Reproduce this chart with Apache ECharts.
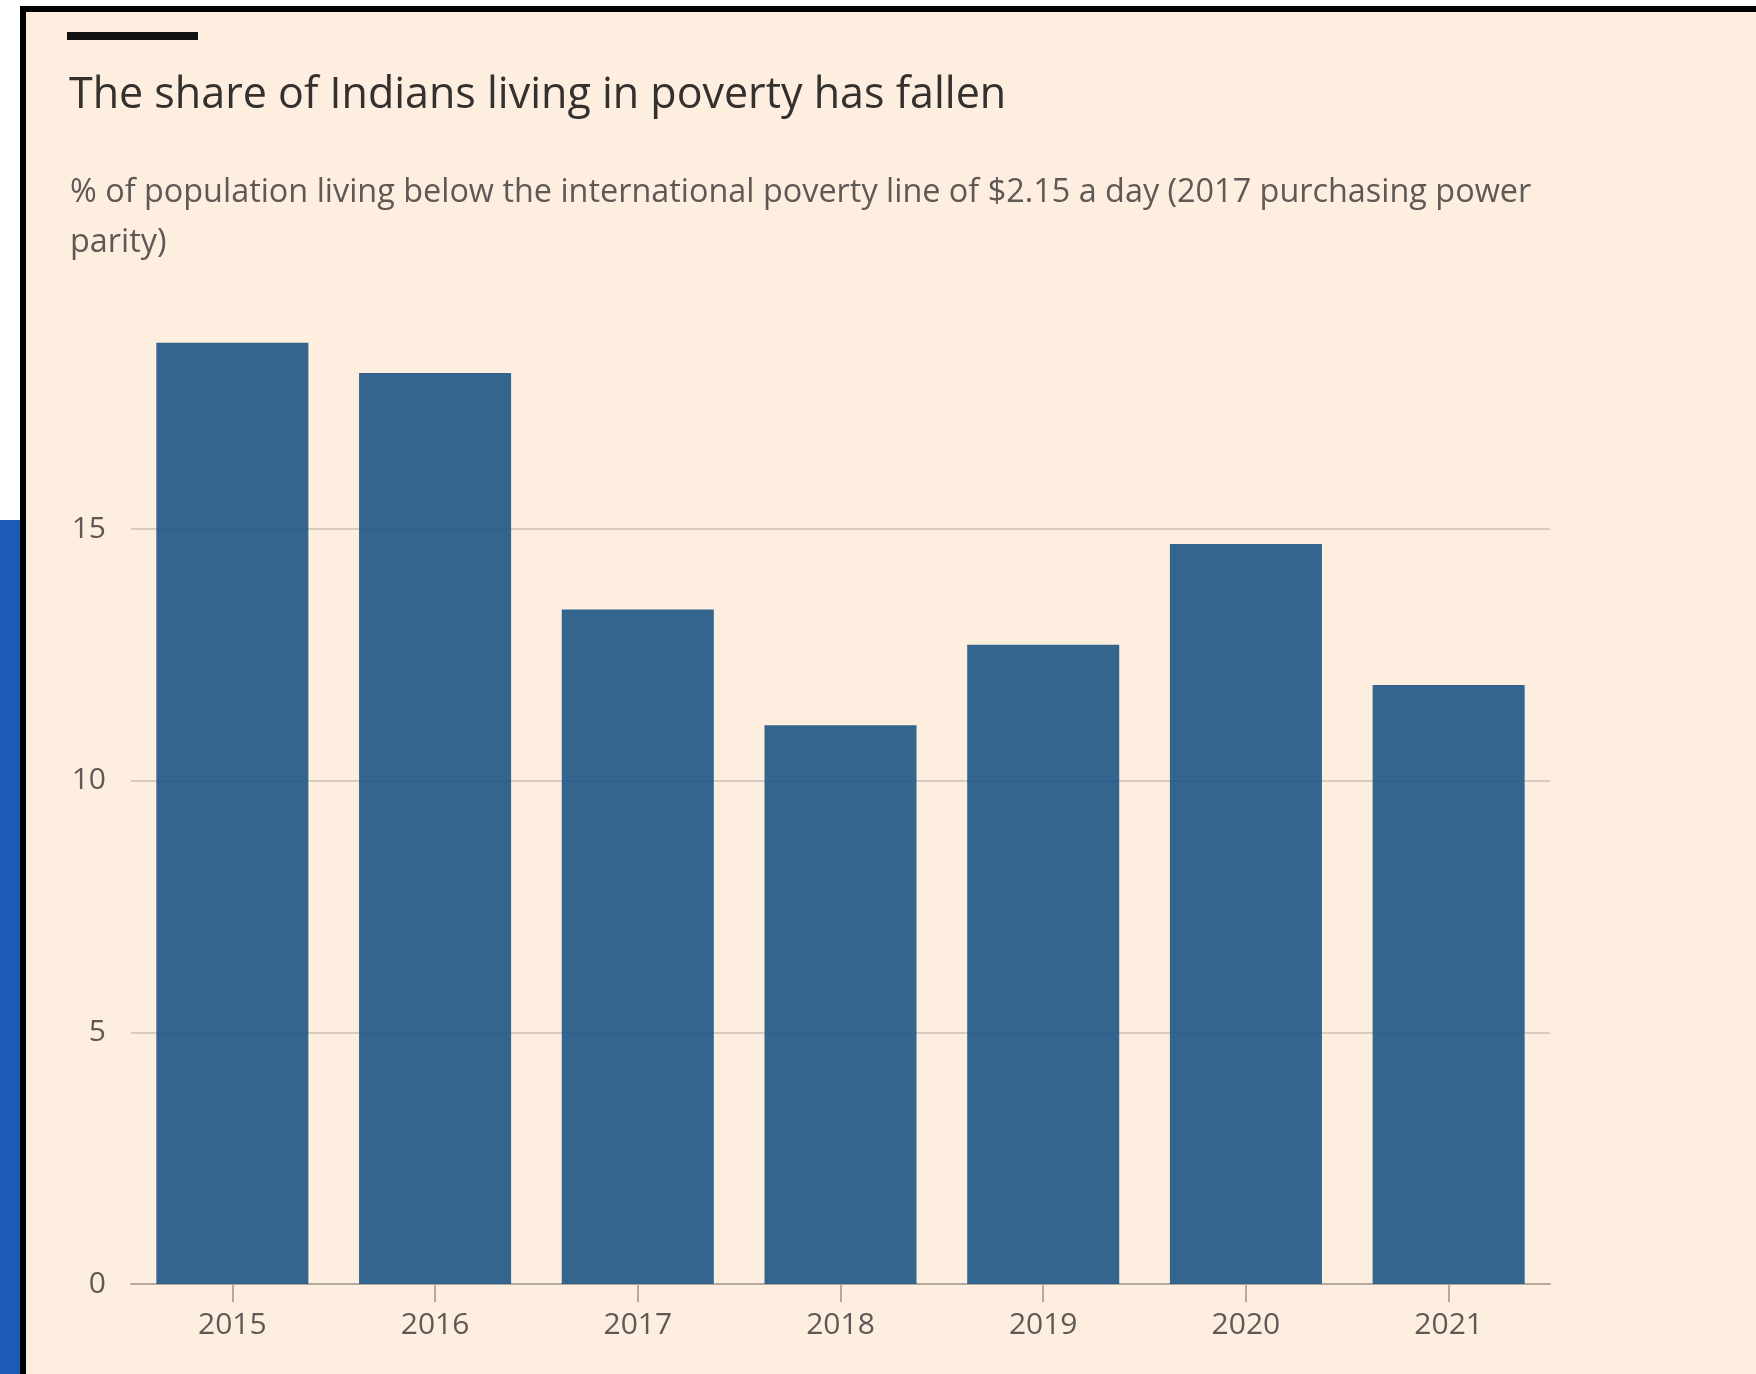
<!DOCTYPE html>
<html><head><meta charset="utf-8">
<script src="https://cdn.jsdelivr.net/npm/echarts@6/dist/echarts.min.js"></script>
<style>html,body{margin:0;padding:0;background:#fff;} #c{width:1756px;height:1374px;}</style>
</head><body><div id="c"></div>
<script>
const categories = ['2015', '2016', '2017', '2018', '2019', '2020', '2021'];
const povertyShare = [18.7, 18.1, 13.4, 11.1, 12.7, 14.7, 11.9];
const yTickLabels = [0, 5, 10, 15];
const titleText = 'The share of Indians living in poverty has fallen';
const subtitleText = '% of population living below the international poverty line of $2.15 a day (2017 purchasing power\nparity)';

const FONT = 'Open Sans';
const chart = echarts.init(document.getElementById('c'), null, {renderer: 'canvas'});
chart.setOption({
  animation: false,
  backgroundColor: '#fdeee0',
  title: [
    {text: titleText, left: 64, top: 65,
     textStyle: {fontFamily: FONT, fontSize: 43, fontWeight: 'normal', color: '#33302e', lineHeight: 52}},
    {text: subtitleText, left: 65, top: 163,
     textStyle: {fontFamily: FONT, fontSize: 32.4, fontWeight: 'normal', color: '#5f5955', lineHeight: 50}}
  ],
  graphic: [
    {type: 'rect', shape: {x: 0, y: 0, width: 1756, height: 6}, style: {fill: '#ffffff'}},
    {type: 'rect', shape: {x: 0, y: 0, width: 20, height: 520}, style: {fill: '#ffffff'}},
    {type: 'rect', shape: {x: 0, y: 520, width: 20, height: 854}, style: {fill: '#1b5bb6'}},
    {type: 'rect', shape: {x: 20, y: 6, width: 6, height: 1368}, style: {fill: '#000000'}},
    {type: 'rect', shape: {x: 20, y: 6, width: 1736, height: 6}, style: {fill: '#000000'}},
    {type: 'rect', shape: {x: 67, y: 32, width: 131, height: 8}, style: {fill: '#111111'}}
  ],
  grid: {left: 131, right: 206, top: 277.3, bottom: 90, containLabel: false},
  xAxis: {
    type: 'category', data: categories,
    axisLine: {lineStyle: {color: '#b3a99f', width: 2}},
    axisTick: {show: true, alignWithLabel: true, length: 18, lineStyle: {color: '#b3a99f', width: 2}},
    axisLabel: {fontFamily: FONT, fontSize: 30, color: '#5f5955', margin: 26}
  },
  yAxis: {
    type: 'value', min: 0, max: 20, interval: 5,
    axisLine: {show: false}, axisTick: {show: false},
    axisLabel: {fontFamily: FONT, fontSize: 30, color: '#5f5955', margin: 25, showMaxLabel: false,
      formatter: v => yTickLabels.includes(v) ? String(v) : ''},
    splitLine: {show: true, showMaxLine: false, lineStyle: {color: '#d8cbbf', width: 2}}
  },
  series: [{
    type: 'bar', data: povertyShare, barCategoryGap: '25%',
    itemStyle: {color: '#1d5586', opacity: 0.9}
  }]
});
</script></body></html>
